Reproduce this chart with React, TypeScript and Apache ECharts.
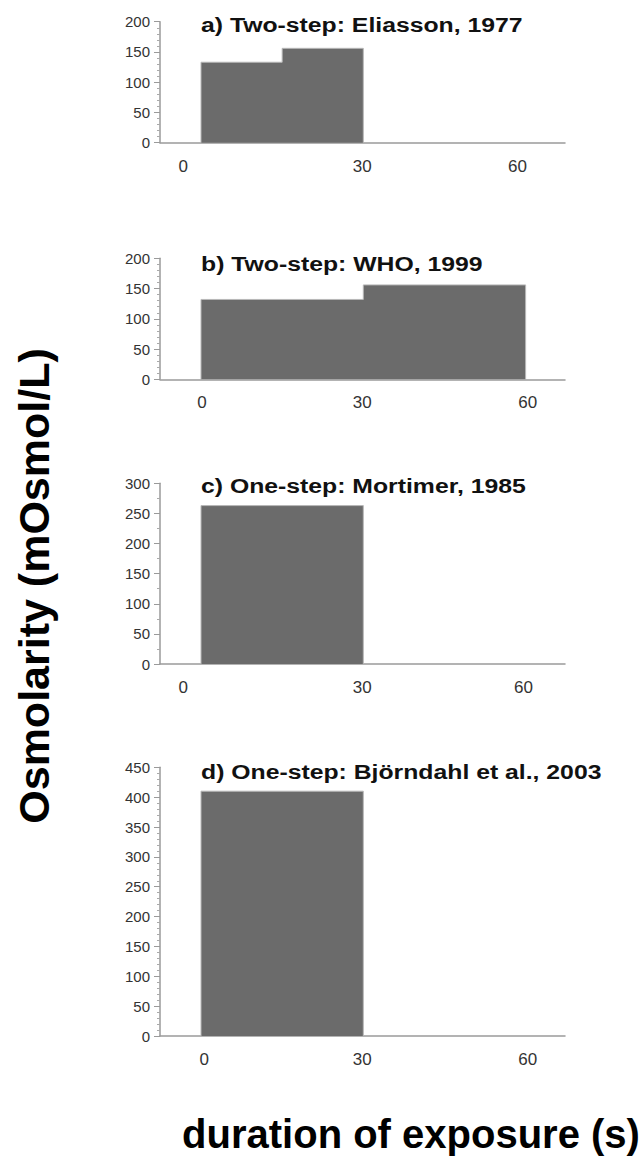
import React, { useEffect, useRef } from "react";
import * as echarts from "echarts";

// ---- data ----
const xTickLabels = ["0", "30", "60"];

const eliassonTimes = [0, 15, 30];
const eliassonOsm = [133, 156];

const whoTimes = [0, 30, 60];
const whoOsm = [132, 156];

const mortimerTimes = [0, 30];
const mortimerOsm = [263];

const bjorndahlTimes = [0, 30];
const bjorndahlOsm = [410];

const panelTitles = [
  "a) Two-step: Eliasson, 1977",
  "b) Two-step: WHO, 1999",
  "c) One-step: Mortimer, 1985",
  "d) One-step: Björndahl et al., 2003",
];
const yMaxima = [200, 200, 300, 450];

const yTitle = "Osmolarity (mOsmol/L)";
const xTitle = "duration of exposure (s)";

// ---- layout (styling) ----
const FONT = '"Liberation Sans", Arial, sans-serif';
const layout = [
  { top: 21.7, height: 121, minor: 5, labelPos: [-3.3, 29.8, 58.5], titleY: 25 },
  { top: 258.3, height: 121, minor: 5, labelPos: [0.2, 29.8, 60.4], titleY: 263.3 },
  { top: 483.3, height: 180.7, minor: 2, labelPos: [-3.3, 29.8, 59.6], titleY: 485.5 },
  { top: 767.3, height: 268.7, minor: 5, labelPos: [0.6, 29.8, 60.4], titleY: 771.7 },
];

const panels = [
  { times: eliassonTimes, osm: eliassonOsm },
  { times: whoTimes, osm: whoOsm },
  { times: mortimerTimes, osm: mortimerOsm },
  { times: bjorndahlTimes, osm: bjorndahlOsm },
];

function outline(times: number[], osm: number[]) {
  const pts: number[][] = [[times[0], 0]];
  for (let i = 0; i < osm.length; i++) {
    pts.push([times[i], osm[i]]);
    pts.push([times[i + 1], osm[i]]);
  }
  pts.push([times[times.length - 1], 0]);
  return pts;
}

export default function App() {
  const ref = useRef<HTMLDivElement>(null);
  useEffect(() => {
    if (!ref.current) return;
    const chart = echarts.init(ref.current, undefined, { renderer: "svg" });
    const axisColor = "#9a9a9a";
    const option: any = {
      animation: false,
      backgroundColor: "#ffffff",
      grid: layout.map((l) => ({ left: 160, width: 405, top: l.top, height: l.height })),
      xAxis: layout.map((l, i) => ({
        type: "value",
        gridIndex: i,
        min: -7.58,
        max: 67.28,
        axisLine: { show: true, onZero: false, lineStyle: { color: axisColor, width: 1.5 } },
        axisTick: { show: false },
        splitLine: { show: false },
        axisLabel: {
          customValues: l.labelPos,
          formatter: (v: number) => {
            let best = 0;
            l.labelPos.forEach((p, k) => {
              if (Math.abs(p - v) < Math.abs(l.labelPos[best] - v)) best = k;
            });
            return xTickLabels[best];
          },
          margin: 15,
          fontSize: 17,
          color: "#333",
          fontFamily: FONT,
        },
      })),
      yAxis: layout.map((l, i) => ({
        type: "value",
        gridIndex: i,
        min: 0,
        max: yMaxima[i],
        interval: 50,
        axisLine: { show: true, onZero: false, lineStyle: { color: axisColor, width: 1.5 } },
        axisTick: { show: true, length: 6, lineStyle: { color: axisColor, width: 1 } },
        minorTick: { show: true, splitNumber: l.minor, length: 3, lineStyle: { color: "#aaa", width: 1 } },
        splitLine: { show: false },
        minorSplitLine: { show: false },
        axisLabel: { fontSize: 15, margin: 10, color: "#333", fontFamily: FONT },
      })),
      series: panels.map((p, i) => ({
        type: "line",
        xAxisIndex: i,
        yAxisIndex: i,
        data: outline(p.times, p.osm),
        symbol: "none",
        lineStyle: { color: "#b8b8b8", width: 1 },
        areaStyle: { color: "#6b6b6b", opacity: 1 },
        z: 1,
      })),
      graphic: [
        ...layout.map((l, i) => ({
          type: "text",
          x: 201,
          y: l.titleY,
          scaleX: 1.18,
          style: {
            text: panelTitles[i],
            fontSize: 21,
            fontWeight: "bold",
            fontFamily: FONT,
            fill: "#111",
            textAlign: "left",
            textVerticalAlign: "middle",
          },
        })),
        {
          type: "text",
          x: 34,
          y: 586,
          rotation: Math.PI / 2,
          style: {
            text: yTitle,
            fontSize: 43,
            fontWeight: "bold",
            fontFamily: FONT,
            fill: "#000",
            textAlign: "center",
            textVerticalAlign: "middle",
          },
        },
        {
          type: "text",
          x: 411,
          y: 1134,
          style: {
            text: xTitle,
            fontSize: 40,
            fontWeight: "bold",
            fontFamily: FONT,
            fill: "#000",
            textAlign: "center",
            textVerticalAlign: "middle",
          },
        },
      ],
    };
    chart.setOption(option);
    return () => chart.dispose();
  }, []);
  return (
    <div
      ref={ref}
      style={{ position: "absolute", left: 0, top: 0, width: 644, height: 1158 }}
    />
  );
}
